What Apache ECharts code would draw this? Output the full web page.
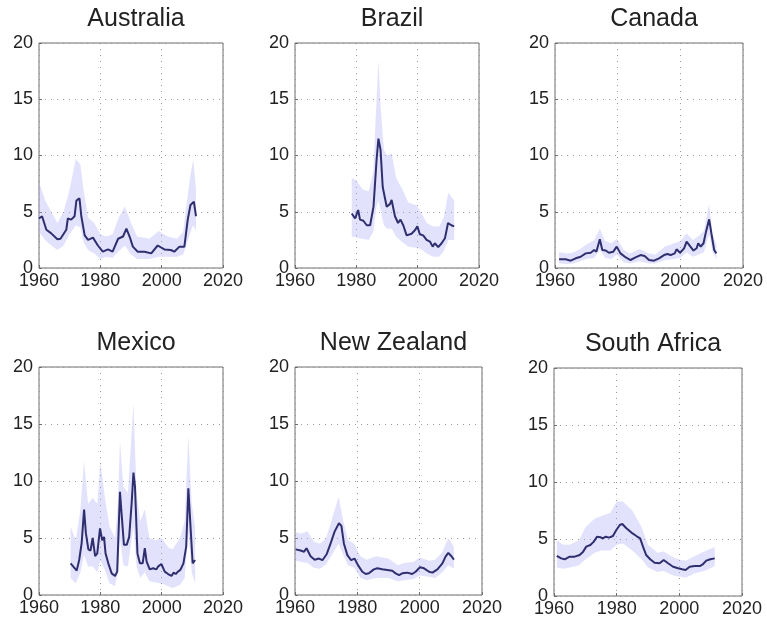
<!DOCTYPE html>
<html>
<head>
<meta charset="utf-8">
<title>Country panels</title>
<script src="https://cdn.jsdelivr.net/npm/echarts@6/dist/echarts.min.js"></script>
<style>
  html, body { margin: 0; padding: 0; background: #fff; }
  #chart { width: 767px; height: 624px; }
</style>
</head>
<body>
<div id="chart"></div>
<script>
// Panel titles, in drawing order (row by row)
const countries = ['Australia', 'Brazil', 'Canada', 'Mexico', 'New Zealand', 'South Africa'];

// Axis ticks shared by all panels
const xTicks = [1960, 1980, 2000, 2020];
const yTicks = [0, 5, 10, 15, 20];

// Median estimate per country: [year, value]
const australiaMedian = [[1960,4.4],[1961,4.6],[1962.4,3.4],[1963.9,3.1],[1966,2.55],[1967,2.6],[1968.9,3.4],[1969.4,4.4],[1970.5,4.3],[1971.6,4.6],[1972.2,6.0],[1973.2,6.2],[1973.8,4.6],[1974.9,2.9],[1976,2.5],[1977.6,2.7],[1979.2,2.0],[1980.8,1.45],[1982.5,1.65],[1984,1.45],[1985.8,2.6],[1987.4,2.8],[1988.5,3.5],[1989.6,2.75],[1990.6,1.9],[1992.2,1.45],[1994.4,1.45],[1996.6,1.3],[1998.7,2.0],[2000.9,1.65],[2003,1.6],[2004.1,1.45],[2005.8,1.9],[2007.4,1.9],[2008.5,4.3],[2009.4,5.6],[2010.5,5.9],[2011.2,4.6]];
const brazilMedian = [[1978.5,4.85],[1979.6,4.4],[1980.6,5.15],[1981.2,4.3],[1982.3,4.2],[1983.4,3.8],[1984.5,3.8],[1985.6,5.45],[1986.6,9.6],[1987.2,11.5],[1987.9,10.5],[1988.6,7.2],[1989.9,5.45],[1991,5.7],[1991.5,6.05],[1992.6,4.6],[1993.6,4.0],[1994.4,4.3],[1995.3,3.8],[1996.4,2.9],[1998,3.05],[1999.1,3.35],[1999.9,3.7],[2000.7,3.0],[2001.8,2.9],[2002.9,2.5],[2004,2.35],[2004.9,1.9],[2005.6,2.2],[2006.7,1.85],[2007.8,2.2],[2008.9,2.65],[2009.9,4.0],[2011,3.8],[2011.9,3.7]];
const canadaMedian = [[1961.3,0.77],[1963.4,0.77],[1965,0.65],[1966.6,0.86],[1968.2,1.0],[1969.8,1.3],[1971.4,1.36],[1972.5,1.6],[1973.2,1.45],[1974.3,2.55],[1975.1,1.6],[1976.2,1.55],[1977.2,1.35],[1978.6,1.45],[1979.7,1.9],[1980.9,1.3],[1982.6,0.94],[1984.1,0.71],[1985.7,0.94],[1987.3,1.15],[1988.6,1.06],[1990,0.71],[1991.6,0.65],[1993.2,0.86],[1994.8,1.15],[1995.9,1.24],[1996.9,1.15],[1998.2,1.3],[1998.8,1.66],[1999.9,1.36],[2001.2,1.75],[2002,2.34],[2003.1,1.95],[2004.2,1.55],[2005.2,1.75],[2005.7,2.2],[2006.5,1.9],[2007.4,2.2],[2008.2,3.23],[2009.2,4.33],[2009.9,3.1],[2010.8,1.6],[2011.5,1.3]];
const mexicoMedian = [[1970.3,2.78],[1971.2,2.49],[1972.3,2.14],[1973.1,3.07],[1973.9,4.53],[1974.7,7.5],[1975.3,5.4],[1976.1,4.0],[1976.8,3.9],[1977.5,5.0],[1978.3,3.4],[1979,3.65],[1979.9,5.85],[1980.6,4.8],[1981.2,5.1],[1981.7,3.65],[1982.6,2.78],[1983.7,1.9],[1984.8,1.67],[1985.5,2.05],[1986.4,9.06],[1987,6.9],[1987.7,4.4],[1988.6,4.4],[1989.4,5.1],[1990.2,8.0],[1990.8,10.73],[1991.3,9.5],[1992.1,3.65],[1992.9,2.78],[1993.8,2.78],[1994.5,4.1],[1995.1,2.92],[1996.1,2.25],[1997.2,2.34],[1998.3,2.25],[1998.8,2.49],[1999.4,2.34],[1999.9,2.72],[2001,2.05],[2002.1,1.84],[2003.2,1.67],[2003.9,1.96],[2004.6,1.84],[2005.3,2.05],[2006.1,2.2],[2007.1,2.78],[2008,4.24],[2008.7,9.36],[2009.6,5.1],[2010.1,2.78],[2010.9,3.07]];
const newZealandMedian = [[1960.2,4.0],[1961.8,3.9],[1962.9,3.8],[1963.7,4.1],[1965,3.4],[1966.3,3.1],[1967.7,3.2],[1968.8,3.05],[1970.2,3.6],[1971.4,4.5],[1972.7,5.56],[1974.1,6.3],[1974.9,6.05],[1975.7,4.5],[1976.8,3.5],[1978,3.05],[1979.1,3.2],[1980.2,2.62],[1981.6,2.04],[1982.7,1.84],[1983.7,1.9],[1985.3,2.25],[1986.4,2.34],[1988,2.25],[1989.6,2.19],[1991.2,2.13],[1992.3,1.9],[1993.4,1.75],[1994.4,1.9],[1996,1.96],[1997.6,1.84],[1998.7,2.04],[2000.1,2.43],[2001.4,2.34],[2003,2.04],[2004.1,1.96],[2005.7,2.25],[2007.3,2.77],[2008.3,3.36],[2009.2,3.7],[2010.2,3.4],[2011,3.1]];
const southAfricaMedian = [[1960.9,3.51],[1962.3,3.3],[1963.4,3.22],[1965,3.45],[1966.6,3.45],[1968.2,3.6],[1969.3,3.89],[1970.3,4.33],[1971.6,4.47],[1972.7,4.77],[1973.7,5.2],[1974.8,5.15],[1975.6,5.06],[1976.5,5.2],[1977.6,5.12],[1978.8,5.26],[1979.9,5.79],[1981,6.23],[1981.8,6.32],[1983.1,5.94],[1984.7,5.56],[1986.3,5.26],[1987.5,5.06],[1988.4,4.33],[1989.4,3.6],[1990.7,3.22],[1992.1,2.92],[1993.7,2.87],[1995,3.16],[1996.4,2.87],[1998,2.57],[1999.6,2.43],[2000.9,2.34],[2002,2.28],[2003.3,2.57],[2004.9,2.63],[2006.5,2.63],[2007.5,2.78],[2008.6,3.1],[2009.9,3.22],[2011.3,3.3]];

// Uncertainty band per country: [year, lower, upper]
const australiaBand = [[1960,3.2,7.7],[1962,2.5,6.0],[1964,2.0,5.0],[1966,1.6,4.0],[1968,2.0,5.0],[1970,3.0,7.0],[1972,3.8,9.7],[1973.5,3.6,9.2],[1974.5,2.3,7.0],[1976,1.6,4.5],[1978,1.3,4.0],[1980,0.8,3.0],[1982,1.0,2.8],[1984,0.9,3.0],[1986,1.5,4.5],[1988,2.0,5.5],[1990,1.2,4.0],[1992,0.8,2.8],[1996,0.8,2.6],[1999,1.0,3.3],[2002,1.0,2.8],[2005,1.0,2.6],[2007,1.2,3.2],[2008.5,2.4,6.5],[2009.5,3.3,8.5],[2010.3,3.8,9.6],[2011.2,3.3,7.0]];
const brazilBand = [[1978.5,2.8,8.0],[1980,2.7,7.8],[1982,2.6,7.0],[1984,2.5,6.8],[1985.5,3.2,8.5],[1986.6,5.5,15.0],[1987.2,6.0,18.5],[1988,5.0,14.0],[1989,3.8,10.5],[1990,3.5,10.0],[1991.5,3.5,10.2],[1993,2.8,8.0],[1995,2.3,7.0],[1997,1.9,5.8],[1999.5,1.8,5.6],[2001,1.7,5.0],[2003,1.3,4.0],[2005,1.0,3.7],[2007,1.0,3.7],[2008.5,1.5,4.5],[2010,2.5,6.7],[2011.9,2.5,6.0]];
const canadaBand = [[1961.3,0.4,1.4],[1964,0.35,1.3],[1966,0.4,1.4],[1968,0.6,1.7],[1970,0.8,2.1],[1972.5,0.9,2.5],[1974.3,1.6,3.5],[1976,0.9,2.4],[1978,0.8,2.2],[1979.7,1.2,2.6],[1982,0.5,1.6],[1984,0.4,1.3],[1987,0.6,1.7],[1990,0.4,1.3],[1992,0.4,1.2],[1995,0.7,1.9],[1998,0.8,2.2],[2000,0.9,2.4],[2002,1.4,3.1],[2004,1.0,2.5],[2006,1.2,2.9],[2007.5,1.4,3.3],[2009.2,3.0,5.7],[2010.3,1.4,3.0],[2011.5,0.8,2.1]];
const mexicoBand = [[1970.3,1.5,6.0],[1972,1.0,4.8],[1973.5,2.0,7.5],[1974.7,3.5,11.7],[1976,2.5,8.0],[1977.5,2.5,8.5],[1979,2.0,8.0],[1980,3.0,11.7],[1981.5,2.2,8.5],[1983,1.0,6.0],[1984.8,0.8,5.0],[1985.7,2.0,8.0],[1986.4,5.0,13.5],[1987.5,2.6,9.5],[1989,2.5,9.0],[1990.8,6.0,16.8],[1991.8,2.5,9.0],[1993,1.5,6.5],[1994.5,2.0,7.5],[1996,1.2,5.0],[1998,1.1,4.8],[2000,1.0,5.0],[2002,0.8,4.2],[2003.5,0.6,4.0],[2006,0.9,5.0],[2007.5,1.5,6.5],[2008.7,5.5,14.0],[2009.8,2.0,8.0],[2010.9,1.0,6.0]];
const newZealandBand = [[1960.2,3.0,5.5],[1962,2.9,5.4],[1964,2.8,5.6],[1966,2.4,4.7],[1968,2.3,4.5],[1970,2.7,5.0],[1972,3.6,6.8],[1974,4.5,8.6],[1975.5,3.5,6.5],[1977,2.6,4.8],[1979,2.4,4.5],[1981,1.5,3.4],[1983,1.3,3.1],[1986,1.5,3.4],[1990,1.5,3.2],[1993,1.2,2.6],[1995,1.3,2.8],[1998,1.4,2.9],[2000,1.7,3.3],[2003,1.6,3.0],[2005,1.5,3.1],[2007.3,2.0,3.8],[2009.2,2.6,5.0],[2011,2.3,4.2]];
const southAfricaBand = [[1960.9,2.5,4.9],[1963,2.4,4.5],[1965,2.5,4.5],[1968,2.7,4.9],[1970,3.2,6.0],[1973,3.8,6.8],[1975,4.0,7.0],[1978,4.0,7.3],[1980,4.5,8.3],[1982,4.6,8.3],[1985,4.0,7.5],[1988,3.2,6.0],[1990,2.5,4.5],[1993,2.1,3.8],[1995,2.2,3.9],[1998,1.8,3.4],[2000,1.7,3.2],[2002,1.6,3.1],[2005,2.0,3.5],[2008,2.2,3.9],[2011.3,2.6,4.3]];

const medians = [australiaMedian, brazilMedian, canadaMedian, mexicoMedian, newZealandMedian, southAfricaMedian];
const bands = [australiaBand, brazilBand, canadaBand, mexicoBand, newZealandBand, southAfricaBand];

// Plot boxes: [left, top, width, height]
const boxes = [
  [39, 43, 184, 225],
  [295, 43, 184, 225],
  [555, 43, 188, 225],
  [39, 367, 184, 228],
  [295, 367, 187, 228],
  [554, 368, 188, 228]
];

const FONT = '"Liberation Sans", Arial, Helvetica, sans-serif';
const LINE_COLOR = '#2f2f6f';
const BAND_COLOR = 'rgba(175,175,248,0.36)';
const FRAME = '#6e6e6e';
const GRIDLINE = '#9a9a9a';

const grids = [], xAxes = [], yAxes = [], titles = [], series = [];

boxes.forEach((b, i) => {
  grids.push({ left: b[0], top: b[1], width: b[2], height: b[3], show: true,
    borderColor: FRAME, borderWidth: 1, backgroundColor: 'transparent' });

  titles.push({
    text: countries[i],
    left: b[0] + b[2] / 2,
    top: b[1] - 41,
    textAlign: 'center',
    textStyle: { fontFamily: FONT, fontSize: 25, fontWeight: 'normal', color: '#222' }
  });

  xAxes.push({
    gridIndex: i, type: 'value', min: xTicks[0], max: xTicks[xTicks.length - 1], interval: 20,
    axisLine: { show: false },
    axisTick: { show: true, inside: true, length: 3, lineStyle: { color: FRAME } },
    axisLabel: { fontFamily: FONT, fontSize: 18, color: '#222', margin: 4,
      formatter: v => String(v), showMinLabel: true, showMaxLabel: true },
    splitLine: { show: true, lineStyle: { color: GRIDLINE, type: [1, 5], width: 1 } }
  });

  yAxes.push({
    gridIndex: i, type: 'value', min: yTicks[0], max: yTicks[yTicks.length - 1], interval: 5,
    axisLine: { show: false },
    axisTick: { show: true, inside: true, length: 3, lineStyle: { color: FRAME } },
    axisLabel: { fontFamily: FONT, fontSize: 18, color: '#222', margin: 6 },
    splitLine: { show: true, lineStyle: { color: GRIDLINE, type: [1, 5], width: 1 } }
  });

  const band = bands[i];
  series.push({
    type: 'custom',
    xAxisIndex: i, yAxisIndex: i,
    data: band,
    encode: { x: 0, y: [1, 2] },
    silent: true,
    z: 1,
    renderItem: (params, api) => {
      if (params.dataIndex !== 0) return null;
      const upper = band.map(r => api.coord([r[0], r[2]]));
      const lower = band.map(r => api.coord([r[0], r[1]])).reverse();
      return {
        type: 'polygon',
        shape: { points: upper.concat(lower) },
        style: { fill: BAND_COLOR, stroke: null }
      };
    }
  });

  series.push({
    type: 'line',
    xAxisIndex: i, yAxisIndex: i,
    data: medians[i],
    showSymbol: false,
    symbol: 'none',
    silent: true,
    z: 3,
    lineStyle: { color: LINE_COLOR, width: 2 }
  });
});

const chart = echarts.init(document.getElementById('chart'), null, { renderer: 'canvas' });
chart.setOption({
  animation: false,
  backgroundColor: '#fff',
  title: titles,
  grid: grids,
  xAxis: xAxes,
  yAxis: yAxes,
  series: series
});
</script>
</body>
</html>
